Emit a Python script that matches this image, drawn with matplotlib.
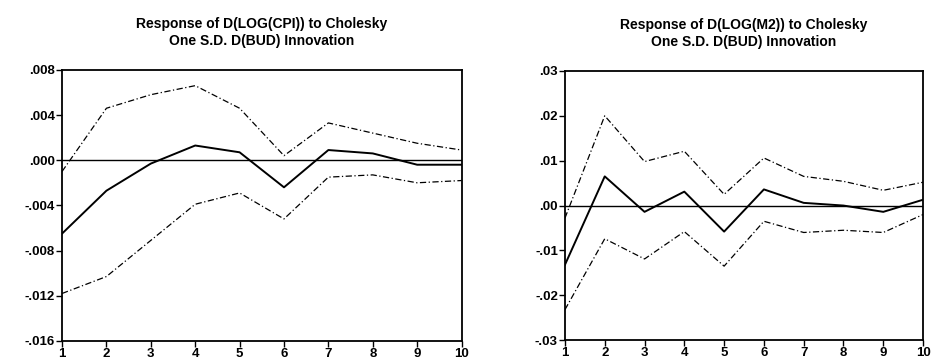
import matplotlib
matplotlib.use("Agg")
import matplotlib.pyplot as plt
from matplotlib.ticker import FuncFormatter

# Impulse response periods
periods = [1, 2, 3, 4, 5, 6, 7, 8, 9, 10]

# Response of D(LOG(CPI)) to D(BUD)
cpi_resp = [-0.0065, -0.0027, -0.0003, 0.0013, 0.0007, -0.0024, 0.0009, 0.0006, -0.0004, -0.0004]
cpi_upper = [-0.0010, 0.0046, 0.0058, 0.0066, 0.0046, 0.0004, 0.0033, 0.0024, 0.0015, 0.0009]
cpi_lower = [-0.0118, -0.0103, -0.0071, -0.0039, -0.0029, -0.0052, -0.0015, -0.0013, -0.0020, -0.0018]

# Response of D(LOG(M2)) to D(BUD)
m2_resp = [-0.0132, 0.0065, -0.0014, 0.0031, -0.0058, 0.0036, 0.0006, 0.0000, -0.0014, 0.0013]
m2_upper = [-0.0028, 0.0200, 0.0098, 0.0121, 0.0025, 0.0106, 0.0065, 0.0054, 0.0034, 0.0052]
m2_lower = [-0.0232, -0.0074, -0.0119, -0.0058, -0.0135, -0.0035, -0.0060, -0.0055, -0.0060, -0.0020]

cpi_title = "Response of D(LOG(CPI)) to Cholesky\nOne S.D. D(BUD) Innovation"
m2_title = "Response of D(LOG(M2)) to Cholesky\nOne S.D. D(BUD) Innovation"

plt.rcParams['font.family'] = ['Liberation Sans', 'DejaVu Sans']


def eviews_fmt(decimals):
    # EViews style: no leading zero, e.g. ".004", "-.012"
    def fmt(v, pos):
        s = f"{v:.{decimals}f}"
        if s.startswith("-0"):
            s = "-" + s[2:]
        elif s.startswith("0"):
            s = s[1:]
        if s.startswith("-.") and float(s) == 0:
            s = s[1:]
        return s
    return FuncFormatter(fmt)


def draw_panel(ax, resp, upper, lower, title, ylim, step, decimals):
    ax.plot(periods, upper, color='black', lw=0.9, linestyle=(0, (5, 2, 1, 2)))
    ax.plot(periods, lower, color='black', lw=0.9, linestyle=(0, (5, 2, 1, 2)))
    ax.plot(periods, resp, color='black', lw=1.4)
    ax.axhline(0, color='black', lw=1.0)
    ax.set_xlim(1, 10)
    ax.set_ylim(*ylim)
    n = int(round((ylim[1] - ylim[0]) / step))
    ax.set_yticks([ylim[0] + i * step for i in range(n + 1)])
    ax.yaxis.set_major_formatter(eviews_fmt(decimals))
    ax.set_xticks(periods)
    ax.tick_params(labelsize=9.5, length=4, width=1, pad=1)
    for lab in ax.get_xticklabels() + ax.get_yticklabels():
        lab.set_fontweight('bold')
    for sp in ax.spines.values():
        sp.set_linewidth(1.3)
    ax.set_title(title, fontsize=10, fontweight='bold', pad=18, linespacing=1.25)


fig = plt.figure(figsize=(9.4, 3.6), dpi=100)
ax1 = fig.add_axes([0.066, 0.053, 0.425, 0.753])
ax2 = fig.add_axes([0.601, 0.055, 0.381, 0.748])

draw_panel(ax1, cpi_resp, cpi_upper, cpi_lower, cpi_title, (-0.016, 0.008), 0.004, 3)
draw_panel(ax2, m2_resp, m2_upper, m2_lower, m2_title, (-0.03, 0.03), 0.01, 2)

fig.savefig("out.png", dpi=100)
